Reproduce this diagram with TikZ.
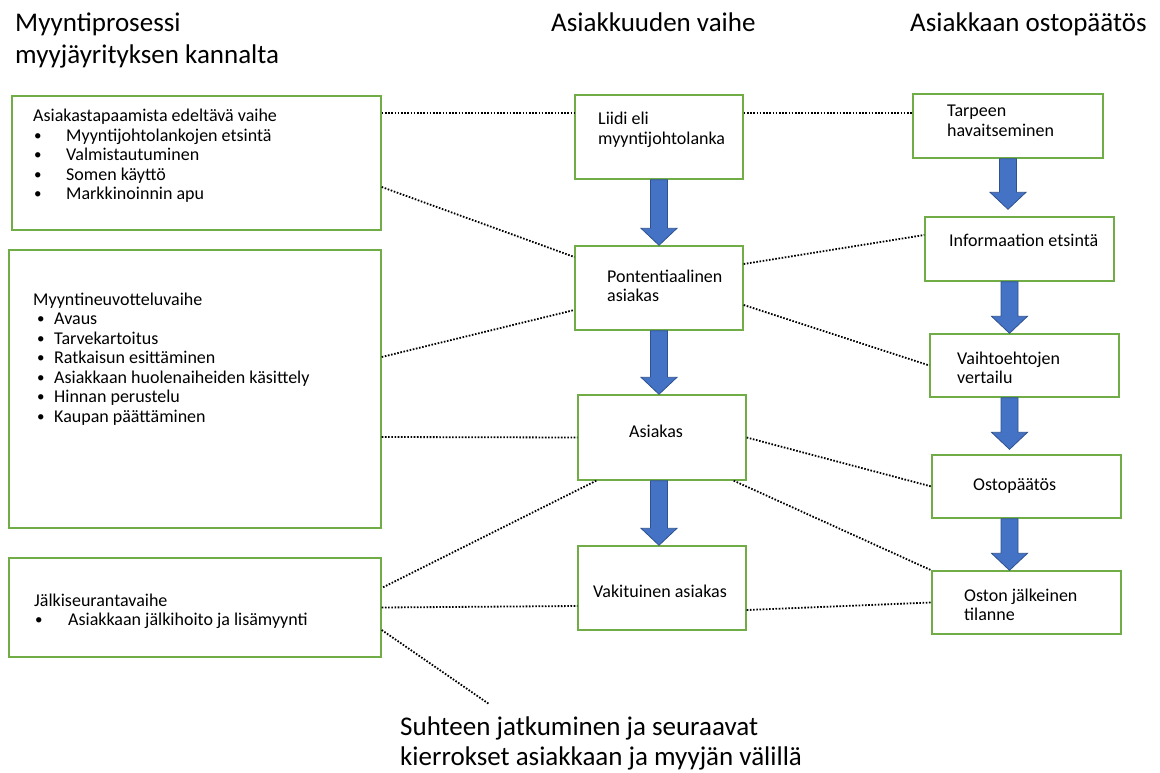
\documentclass[tikz,border=0pt]{standalone}
\usepackage{fontspec}
\setmainfont{Carlito}
\usetikzlibrary{calc}
\definecolor{boxgreen}{HTML}{70AD47}
\definecolor{flowblue}{HTML}{4472C4}
\definecolor{flowedge}{HTML}{2F528F}
\newcommand\blt[2][0pt]{\makebox[#2][l]{\hspace{#1}\raisebox{1pt}{\fontsize{15}{15}\selectfont•}}}

\begin{document}
\begin{tikzpicture}[x=1pt,y=-1pt,
   box/.style={draw=boxgreen,line width=1.4pt,inner sep=0pt},
   txt/.style={anchor=base west,inner sep=0pt,align=left,font=\fontsize{18}{19.5}\selectfont},
   head/.style={anchor=base west,inner sep=0pt,align=left,font=\fontsize{27}{32}\selectfont},
   dotline/.style={line width=1.8pt,dash pattern=on 1.6pt off 1.6pt},
   flow/.style={draw=flowedge,fill=flowblue,line width=0.8pt,
      to path={let \p1=(\tikztostart),\p2=(\tikztotarget) in
         (\x1-8.5pt,\y1) -- (\x1+8.5pt,\y1) -- (\x1+8.5pt,\y2+17pt) -- (\x1+18pt,\y2+17pt)
         -- (\x1,\y2) -- (\x1-18pt,\y2+17pt) -- (\x1-8.5pt,\y2+17pt) -- cycle}}]
   \useasboundingbox (0,0) rectangle (1160,773);

   \node[head] (t_left)  at (15,64)  {Myyntiprosessi\\myyjäyrityksen kannalta};
   \node[head] (t_mid)   at (551,32) {Asiakkuuden vaihe};
   \node[head] (t_right) at (910,32) {Asiakkaan ostopäätös};
   \node[head,font=\fontsize{27}{30}\selectfont] (note) at (400,765)
      {Suhteen jatkuminen ja seuraavat\\kierrokset asiakkaan ja myyjän välillä};

   \node[box,minimum width=369,minimum height=134] (pre)   at (196.5,163)  {};
   \node[box,minimum width=372,minimum height=278] (neg)   at (195,389)    {};
   \node[box,minimum width=372,minimum height=99]  (after) at (195,607.5)  {};
   \node[box,minimum width=168,minimum height=84]  (lead)  at (659,137)    {};
   \node[box,minimum width=168,minimum height=84]  (pot)   at (659,288)    {};
   \node[box,minimum width=168,minimum height=85]  (cust)  at (662,437.5)  {};
   \node[box,minimum width=168,minimum height=84]  (reg)   at (662,588)    {};
   \node[box,minimum width=190,minimum height=64]  (need)  at (1008,126)   {};
   \node[box,minimum width=189,minimum height=64]  (info)  at (1019.5,249) {};
   \node[box,minimum width=189,minimum height=63]  (comp)  at (1024.5,365.5) {};
   \node[box,minimum width=189,minimum height=63]  (dec)   at (1026.5,486.5) {};
   \node[box,minimum width=189,minimum height=63]  (post)  at (1026.5,602.5) {};

   \node[txt] (pre_t) at (33,200) {Asiakastapaamista edeltävä vaihe\\
      \blt[1pt]{33pt}Myyntijohtolankojen etsintä\\
      \blt[1pt]{33pt}Valmistautuminen\\
      \blt[1pt]{33pt}Somen käyttö\\
      \blt[1pt]{33pt}Markkinoinnin apu};
   \node[txt] (neg_t) at (33,422) {Myyntineuvotteluvaihe\\
      \blt[4pt]{21pt}Avaus\\
      \blt[4pt]{21pt}Tarvekartoitus\\
      \blt[4pt]{21pt}Ratkaisun esittäminen\\
      \blt[4pt]{21pt}Asiakkaan huolenaiheiden käsittely\\
      \blt[4pt]{21pt}Hinnan perustelu\\
      \blt[4pt]{21pt}Kaupan päättäminen};
   \node[txt] (after_t) at (34,625.5) {Jälkiseurantavaihe\\
      \blt[1pt]{34pt}Asiakkaan jälkihoito ja lisämyynti};
   \node[txt] (lead_t) at (598,144.5) {Liidi eli\\myyntijohtolanka};
   \node[txt] (pot_t)  at (607,301.5) {Pontentiaalinen\\asiakas};
   \node[txt] (cust_t) at (629,437) {Asiakas};
   \node[txt] (reg_t)  at (593,597) {Vakituinen asiakas};
   \node[txt] (need_t) at (947,136.5) {Tarpeen\\havaitseminen};
   \node[txt] (info_t) at (949,247) {Informaation etsintä};
   \node[txt] (comp_t) at (957,383.5) {Vaihtoehtojen\\vertailu};
   \node[txt] (dec_t)  at (973,490) {Ostopäätös};
   \node[txt] (post_t) at (964,620.5) {Oston jälkeinen\\tilanne};
   \coordinate (next) at (489,704);

   \path (lead.south) edge[flow] (pot.north)
         (pot.south) edge[flow] (cust.north)
         ([xshift=-3]cust.south) edge[flow] (reg.north)
         (need.south) edge[flow] ([yshift=7]info.north)
         ([xshift=-10]info.south) edge[flow] (comp.north)
         ([xshift=-15]comp.south) edge[flow] ([yshift=5]dec.north)
         ([xshift=-17]dec.south) edge[flow] (post.north);

   \path[dotline]
      ([yshift=50]pre.east) edge ([yshift=24]lead.west)
      ([yshift=24]lead.east) edge ([yshift=13]need.west)
      ([yshift=-24]pre.east) edge ([yshift=31]pot.west)
      ([yshift=24]pot.east) edge ([yshift=14]info.west)
      ([yshift=32]neg.east) edge ([yshift=-22]pot.west)
      ([yshift=-17]pot.east) edge (comp.west)
      ([yshift=-48]neg.east) edge (cust.west)
      (cust.east) edge (dec.west)
      ([xshift=19]cust.south west) edge ([yshift=19.5]after.east)
      ([xshift=-13]cust.south east) edge (post.north west)
      (after.east) edge ([yshift=-18]reg.west)
      ([yshift=-22]reg.east) edge (post.west)
      ([yshift=-22.5]after.east) edge (next);
\end{tikzpicture}
\end{document}
